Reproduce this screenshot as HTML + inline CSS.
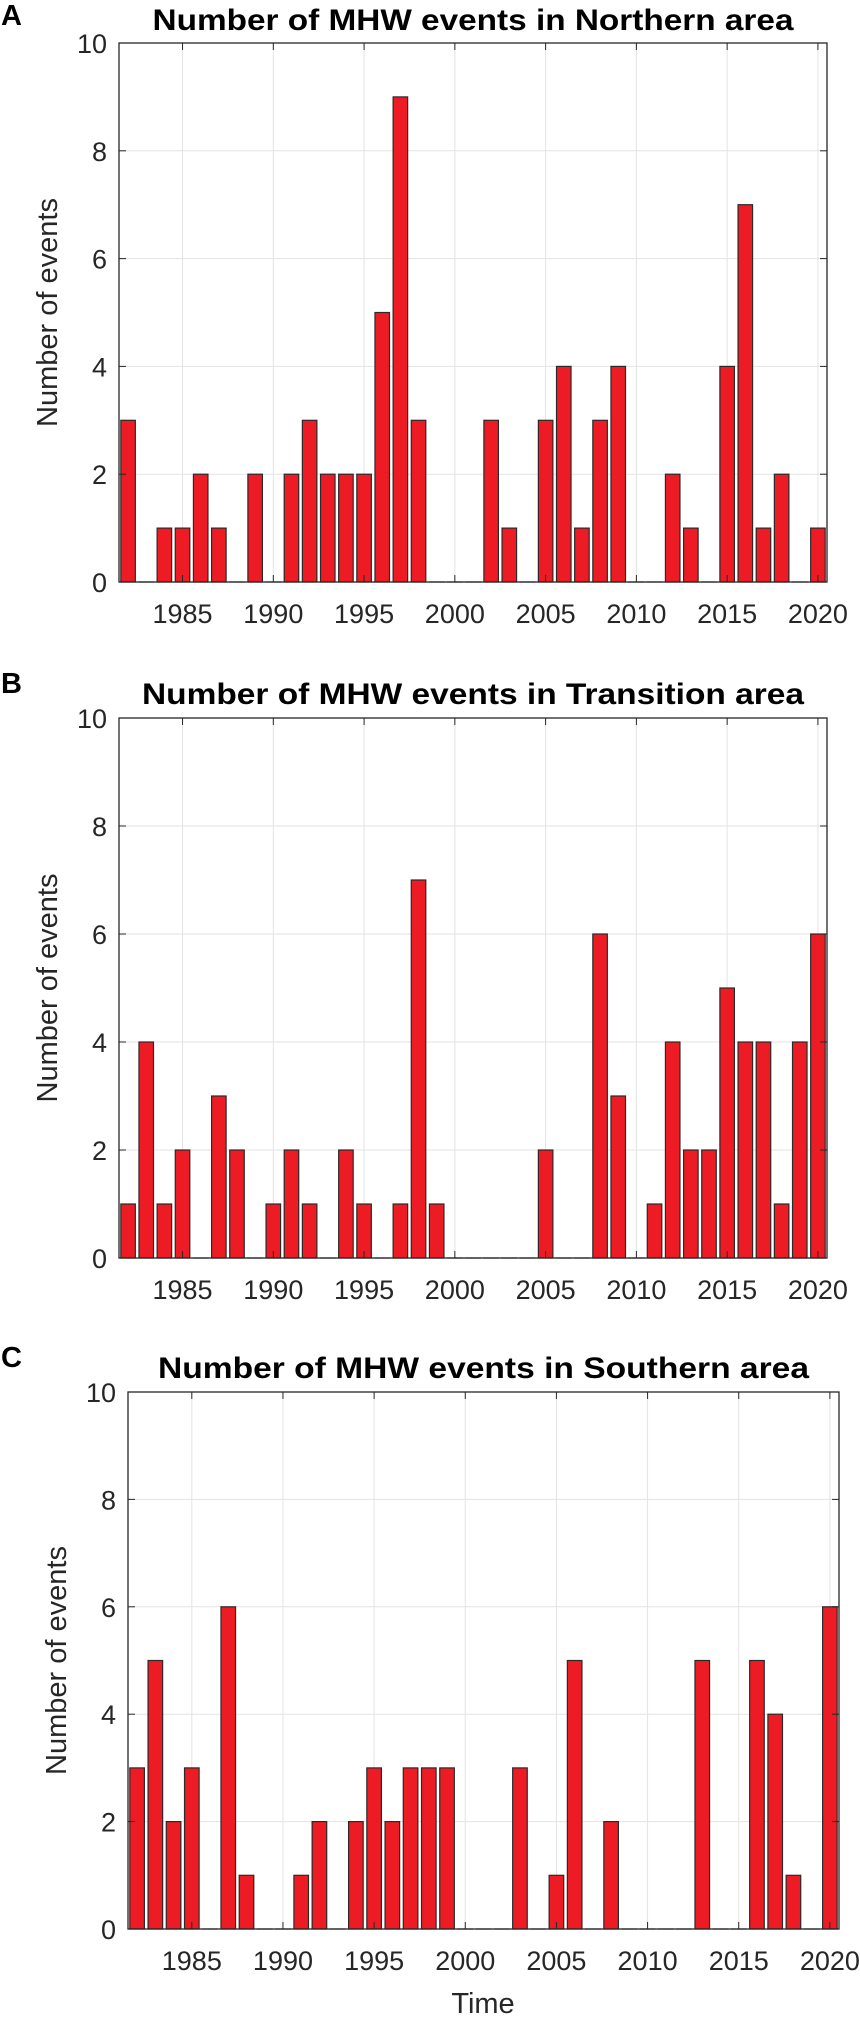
<!DOCTYPE html>
<html><head><meta charset="utf-8"><style>
html,body{margin:0;padding:0;background:#fff;}
svg{display:block;font-family:"Liberation Sans",Arial,sans-serif;}
</style></head><body>
<svg id="fig" width="860" height="2019" viewBox="0 0 860 2019" xmlns="http://www.w3.org/2000/svg"></svg>
<script>
const years = [];
for (let y = 1982; y <= 2020; y++) years.push(y);
const northernValues = [3,0,1,1,2,1,0,2,0,2,3,2,2,2,5,9,3,0,0,0,3,1,0,3,4,1,3,4,0,0,2,1,0,4,7,1,2,0,1];
const transitionValues = [1,4,1,2,0,3,2,0,1,2,1,0,2,1,0,1,7,1,0,0,0,0,0,2,0,0,6,3,0,1,4,2,2,5,4,4,1,4,6];
const southernValues = [3,5,2,3,0,6,1,0,0,1,2,0,2,3,2,3,3,3,0,0,0,3,0,1,5,0,2,0,0,0,0,5,0,0,5,4,1,0,6];
const xTickLabels = [1985,1990,1995,2000,2005,2010,2015,2020];
const yTickLabels = [0,2,4,6,8,10];
const panelTitles = ["Number of MHW events in Northern area","Number of MHW events in Transition area","Number of MHW events in Southern area"];
const panelLetters = ["A","B","C"];

const NS = "http://www.w3.org/2000/svg";
const svg = document.getElementById("fig");
function mk(tag, attrs, parent) {
  const e = document.createElementNS(NS, tag);
  for (const k in attrs) e.setAttribute(k, attrs[k]);
  (parent || svg).appendChild(e);
  return e;
}
const panels = [
  {vals: northernValues, L:119, R:827, T:43, B:582, titleY:30, titleW:641, letterY:25},
  {vals: transitionValues, L:119, R:827, T:718, B:1258, titleY:704, titleW:662, letterY:693},
  {vals: southernValues, L:128, R:839, T:1392, B:1929, titleY:1378, titleW:651, letterY:1367}
];
const XMIN = 1981.5, XMAX = 2020.5, YMAX = 10;
panels.forEach((p, i) => {
  const g = mk("g", {});
  
  
  const xs = v => p.L + (v - XMIN) / (XMAX - XMIN) * (p.R - p.L);
  const ys = v => p.B - v / YMAX * (p.B - p.T);
  xTickLabels.forEach(t => {
    const l = mk("line", {x1:xs(t), x2:xs(t), y1:p.T, y2:p.B, stroke:"#e3e3e3", "stroke-width":1}, g);
    
    
  });
  yTickLabels.forEach(t => {
    const l = mk("line", {x1:p.L, x2:p.R, y1:ys(t), y2:ys(t), stroke:"#e3e3e3", "stroke-width":1}, g);
    
    
  });
  const bw = 0.8 * (p.R - p.L) / (XMAX - XMIN);
  years.forEach((yr, k) => {
    const v = p.vals[k];
    const y0 = ys(0), y1 = ys(v);
    const r = mk("rect", {x:xs(yr) - bw/2, y:y1, width:bw, height:Math.max(y0 - y1, 0.01), fill:"#ed1c24", stroke:"#2a2a2a", "stroke-width":1.2}, g);
    
    
  });
  const box = mk("rect", {x:p.L, y:p.T, width:p.R - p.L, height:p.B - p.T, fill:"none", stroke:"#262626", "stroke-width":1.3}, g);
  
  
  xTickLabels.forEach(t => {
    mk("line", {x1:xs(t), x2:xs(t), y1:p.B, y2:p.B - 7, stroke:"#262626", "stroke-width":1}, g);
    mk("line", {x1:xs(t), x2:xs(t), y1:p.T, y2:p.T + 7, stroke:"#262626", "stroke-width":1}, g);
    const tx = mk("text", {x:xs(t), y:p.B + 41, "text-anchor":"middle", "font-size":27, fill:"#262626"}, g);
    tx.textContent = t;
    
    
  });
  yTickLabels.forEach(t => {
    mk("line", {x1:p.L, x2:p.L + 7, y1:ys(t), y2:ys(t), stroke:"#262626", "stroke-width":1}, g);
    mk("line", {x1:p.R, x2:p.R - 7, y1:ys(t), y2:ys(t), stroke:"#262626", "stroke-width":1}, g);
    const tx = mk("text", {x:p.L - 12, y:ys(t) + 10, "text-anchor":"end", "font-size":27, fill:"#262626"}, g);
    tx.textContent = t;
    
    
  });
  const cy = (p.T + p.B) / 2;
  const yl = mk("text", {x:0, y:0, transform:"translate(" + (p.L - 62) + "," + cy + ") rotate(-90)", "text-anchor":"middle", "font-size":29, fill:"#262626"}, g);
  yl.textContent = "Number of events";
  
  
  const ti = mk("text", {x:(p.L + p.R) / 2, y:p.titleY, "text-anchor":"middle", "font-size":30, "font-weight":"bold", fill:"#000", textLength:p.titleW, lengthAdjust:"spacingAndGlyphs"}, g);
  ti.textContent = panelTitles[i];
  
  
  const le = mk("text", {x:1, y:p.letterY, "font-size":29, "font-weight":"bold", fill:"#000"}, g);
  le.textContent = panelLetters[i];
  
  
});
const xt = mk("text", {x:483, y:2013, "text-anchor":"middle", "font-size":29, fill:"#262626"});
xt.textContent = "Time";


</script>
</body></html>
